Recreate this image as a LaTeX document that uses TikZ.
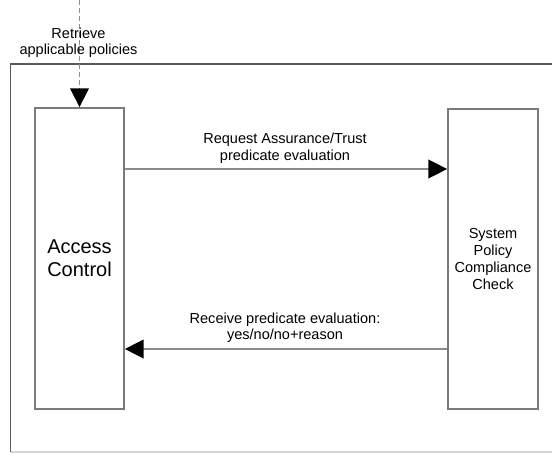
\documentclass[tikz,border=0pt]{standalone}
\usepackage{fontspec}
\setmainfont{Liberation Sans}
\usetikzlibrary{arrows.meta}
\definecolor{boxline}{HTML}{7A7A7A}
\definecolor{frameline}{HTML}{5A5A5A}
\definecolor{flowline}{HTML}{8C8C8C}
\definecolor{frameedge}{HTML}{D4D4D4}
\tikzset{
  labeltext/.style={font=\fontsize{10.9}{12.5}\selectfont, align=center, inner sep=0pt},
  component/.style={draw=boxline, line width=1.3pt, rectangle, inner sep=0pt, align=center},
  flow/.style={draw=flowline, line width=1.1pt,
    -{Triangle[length=14pt,width=14pt,fill=black,color=black]}},
}
\begin{document}
\begin{tikzpicture}[x=0.75pt,y=-0.75pt]
  \useasboundingbox (0,0) rectangle (552,453);

  % enclosing system frame (open on the right)
  \draw[frameline, line width=1.1pt] (552,64) -- (10.5,64) -- (10.5,452);
  \draw[frameedge, line width=1pt] (10.5,452) -- (552,452);

  % components
  \node[component, minimum width=89*0.75pt, minimum height=301*0.75pt,
        font=\fontsize{15}{17}\selectfont] (ac) at (79.5,258.5) {Access\\Control};
  \node[component, minimum width=90*0.75pt, minimum height=300*0.75pt,
        font=\fontsize{10.9}{12.6}\selectfont] (spc) at (493,259) {System\\Policy\\Compliance\\Check};

  % policy retrieval from outside the frame
  \coordinate (src) at (79.5,0);
  \draw[draw=flowline, line width=0.9pt, dash pattern=on 4pt off 2pt,
        -{Triangle[length=14pt,width=14pt,fill=black,color=black]}] (src) -- (ac.north);
  \node[labeltext] (retrieve) at (78.5,42.9) {Retrieve\\applicable policies};

  % request / response exchange
  \coordinate (reqrow) at (0,169);
  \coordinate (resrow) at (0,349);
  \draw[flow] (ac.east |- reqrow) -- (spc.west |- reqrow);
  \draw[flow] (spc.west |- resrow) -- (ac.east |- resrow);
  \node[labeltext] (reqlabel) at (285,148.3) {Request Assurance/Trust\\predicate evaluation};
  \node[labeltext] (reslabel) at (285,327.7) {Receive predicate evaluation:\\yes/no/no+reason};
\end{tikzpicture}
\end{document}
